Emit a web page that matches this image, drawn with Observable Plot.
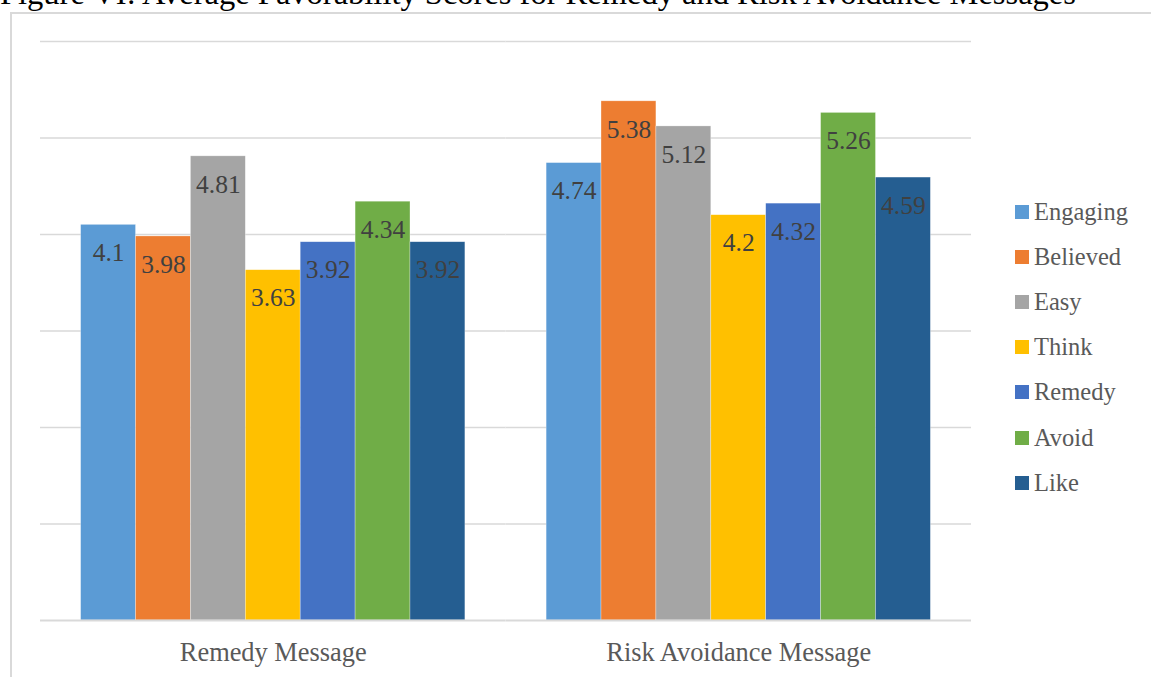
<!DOCTYPE html>
<html>
<head>
<meta charset="utf-8">
<script src="https://cdn.jsdelivr.net/npm/d3@7"></script>
<script src="https://cdn.jsdelivr.net/npm/@observablehq/plot@0.6"></script>
<style>
  html, body { margin: 0; padding: 0; background: #fff; overflow: hidden; }
  body { width: 1151px; height: 677px; position: relative; font-family: "Liberation Serif", serif; }
  #title { position: absolute; left: 0; top: -23px; font-size: 32.5px; line-height: 1; color: #000; white-space: nowrap; font-family: "Liberation Serif", serif; }
  #frame { position: absolute; left: 10px; top: 12px; width: 1200px; height: 720px; border: 2px solid #d9d9d9; box-sizing: border-box; }
  #chart { position: absolute; left: 0; top: 0; }
  #legend { position: absolute; left: 1015px; top: 189px; font-size: 24.5px; color: #595959; font-family: "Liberation Serif", serif; }
  .item { display: flex; align-items: center; height: 45.2px; }
  .sw { width: 14px; height: 14px; margin-right: 5px; }
</style>
</head>
<body>
<div id="title">Figure VI: Average Favorability Scores for Remedy and Risk Avoidance Messages</div>
<div id="frame"></div>
<div id="chart"></div>
<div id="legend"></div>
<script>
const groups = ["Remedy Message", "Risk Avoidance Message"];
const series = ["Engaging", "Believed", "Easy", "Think", "Remedy", "Avoid", "Like"];
const remedyValues = [4.1, 3.98, 4.81, 3.63, 3.92, 4.34, 3.92];
const riskValues = [4.74, 5.38, 5.12, 4.2, 4.32, 5.26, 4.59];
const colors = ["#5b9bd5", "#ed7d31", "#a5a5a5", "#ffc000", "#4472c4", "#70ad47", "#255e91"];
const gridTicks = [0, 1, 2, 3, 4, 5, 6];
const serif = "Liberation Serif, serif";

const data = [];
series.forEach((s, i) => data.push({group: groups[0], series: s, value: remedyValues[i]}));
series.forEach((s, i) => data.push({group: groups[1], series: s, value: riskValues[i]}));

const plot = Plot.plot({
  width: 1151,
  height: 677,
  marginLeft: 40,
  marginRight: 180,
  marginTop: 41,
  marginBottom: 57,
  style: { fontFamily: serif, background: "transparent" },
  fx: { domain: groups, padding: 0, label: null, axis: null, round: false },
  x: { domain: series, paddingInner: 0, paddingOuter: 0.74, axis: null, round: false },
  y: { domain: [0, 6], axis: null },
  color: { domain: series, range: colors },
  marks: [
    Plot.ruleY(gridTicks.slice(1), { stroke: "#d9d9d9", strokeWidth: 1.5 }),
    Plot.barY(data, { fx: "group", x: "series", y: "value", fill: "series", stroke: "#ffffff", strokeWidth: 0.6, strokeOpacity: 0.5 }),
    Plot.ruleY([0], { stroke: "#d9d9d9", strokeWidth: 2 }),
    Plot.text(data, { fx: "group", x: "series", y: "value", text: d => String(d.value), dy: 28, fontSize: 25.5, fontFamily: serif, fill: "#404040", lineAnchor: "middle" }),
    Plot.axisFx({ domain: groups, tickSize: 0, tickPadding: 22, fontSize: 26.4, fontFamily: serif, color: "#595959", label: null, anchor: "bottom" })
  ]
});
document.getElementById("chart").appendChild(plot);

const legend = document.getElementById("legend");
series.forEach((s, i) => {
  const it = document.createElement("div");
  it.className = "item";
  const sw = document.createElement("div");
  sw.className = "sw";
  sw.style.background = colors[i];
  const t = document.createElement("span");
  t.textContent = s;
  it.appendChild(sw);
  it.appendChild(t);
  legend.appendChild(it);
});
</script>
</body>
</html>
